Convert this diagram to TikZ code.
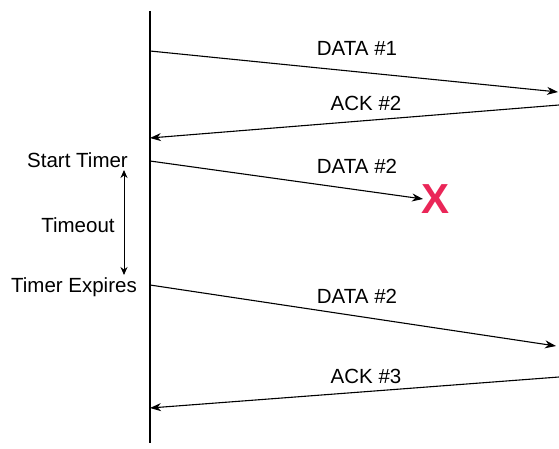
\documentclass[tikz,border=0pt]{standalone}
\usepackage{fontspec}
\setmainfont{Liberation Sans}
\usetikzlibrary{arrows.meta}
\definecolor{xred}{RGB}{234,38,88}
\begin{document}
\begin{tikzpicture}[x=1pt,y=-1pt,
  msg/.style={line width=1.1pt,-{Stealth[length=11pt,width=8pt,inset=3.5pt]}},
  lbl/.style={font=\fontsize{20.5}{24}\selectfont,inner sep=0pt},
  side/.style={font=\fontsize{20.5}{24}\selectfont,inner sep=0pt}]
\useasboundingbox (0,0) rectangle (559,449);
% lifeline
\coordinate (top) at (150,11);
\coordinate (bot) at (150,443);
\draw[line width=2pt] (top) -- (bot);
% endpoints
\coordinate (a1) at (150,51);  \coordinate (b1) at (558,92);
\coordinate (b2) at (559,105); \coordinate (a2) at (150,138);
\coordinate (a3) at (150,161); \coordinate (b3) at (423,199);
\coordinate (a4) at (150,285); \coordinate (b4) at (556,346);
\coordinate (b5) at (559,377); \coordinate (a5) at (150,408);
\draw[msg] (a1) -- (b1);
\draw[msg] (b2) -- (a2);
\draw[msg] (a3) -- (b3);
\draw[msg] (a4) -- (b4);
\draw[msg] (b5) -- (a5);
% labels
\node[lbl] (l1) at (357,48) {DATA \#1};
\node[lbl] (l2) at (366,103) {ACK \#2};
\node[lbl] (l3) at (357,166) {DATA \#2};
\node[lbl] (l4) at (357,296) {DATA \#2};
\node[lbl] (l5) at (366,376) {ACK \#3};
% lost marker
\node[inner sep=0pt,text=xred,font=\fontsize{42}{42}\selectfont\bfseries] (x) at (435,199) {X};
% side labels
\node[side,anchor=east] (st) at (128,160) {Start Timer};
\node[side] (to) at (78,225) {Timeout};
\node[side,anchor=east] (te) at (137,287) {Timer Expires};
\coordinate (t1) at (124,170);
\coordinate (t2) at (124,275);
\draw[line width=1pt,{Stealth[length=8pt,width=7pt]}-{Stealth[length=8pt,width=7pt]}] (t1) -- (t2);
\end{tikzpicture}
\end{document}
